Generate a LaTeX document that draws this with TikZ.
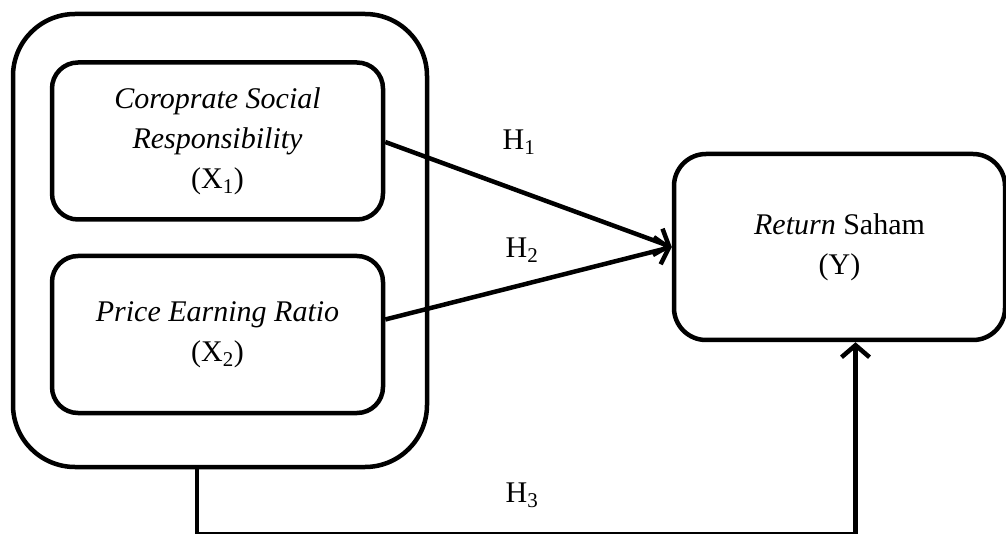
\documentclass[tikz,border=0pt]{standalone}
\usepackage{fontspec}
\setmainfont{Liberation Serif}
\usetikzlibrary{arrows.meta}
\begin{document}
\begin{tikzpicture}[x=1pt,y=-1pt,
  every node/.style={font=\fontsize{30}{40}\selectfont},
  varbox/.style={draw, line width=4.5pt, rounded corners=26pt, align=center,
    minimum width=331pt, minimum height=157pt, inner sep=0pt},
  groupbox/.style={draw, line width=4.5pt, rounded corners=62pt,
    minimum width=414pt, minimum height=453pt},
  ybox/.style={draw, line width=4.5pt, rounded corners=32pt, align=center,
    minimum width=331pt, minimum height=186pt, inner sep=0pt},
  link/.style={draw, line width=4.5pt, -{Straight Barb[length=12pt,width=28pt,line width=4.5pt]}},
  hlabel/.style={inner sep=0pt}]
\useasboundingbox (0,0) rectangle (1006,534);

\node[groupbox] (grp) at (220,240.5) {};
\node[varbox] (x1) at (217.5,141) {\textit{Coroprate Social}\\ \textit{Responsibility}\\ (X\textsubscript{1})};
\node[varbox] (x2) at (217.5,334.5) {\textit{Price Earning Ratio}\\ (X\textsubscript{2})};
\node[ybox] (y) at (839.5,247) {\textit{Return} Saham\\ (Y)};

\node[hlabel] (h1) at (519,142) {H\textsubscript{1}};
\node[hlabel] (h2) at (522,250) {H\textsubscript{2}};
\node[hlabel] (h3) at (522,495) {H\textsubscript{3}};

\path[link] ([yshift=-1pt]x1.east) -- (y.west);
\path[link] ([yshift=15pt]x2.east) -- (y.west);
\path[link] ([xshift=-23pt]grp.south) -- ++(0,65) -| ([xshift=16pt]y.south);
\end{tikzpicture}
\end{document}
